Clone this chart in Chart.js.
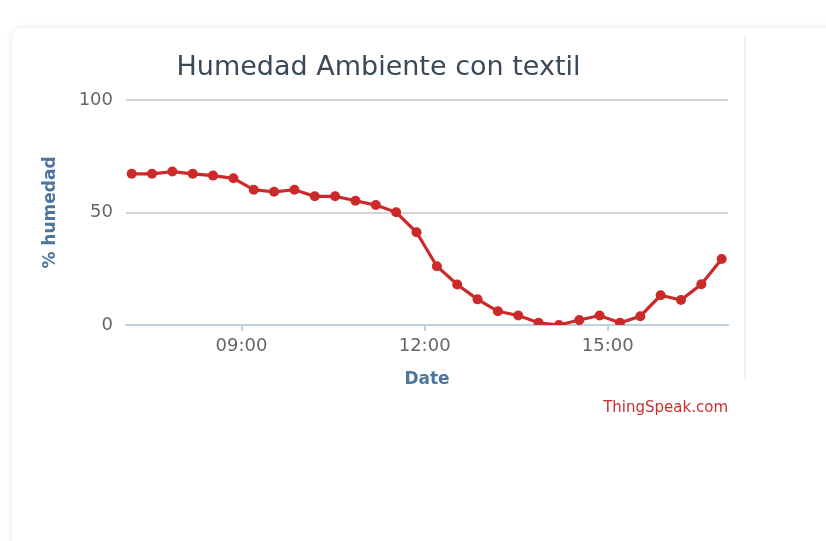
<!DOCTYPE html>
<html>
<head>
<meta charset="utf-8">
<script src="https://cdn.jsdelivr.net/npm/chart.js@4/dist/chart.umd.min.js"></script>
<style>
  html, body { margin: 0; padding: 0; background: #ffffff; width: 826px; height: 541px; overflow: hidden; }
  #card { position: absolute; left: 12px; top: 28px; width: 900px; height: 600px; background: #ffffff;
          border-radius: 10px; box-shadow: 0 0 7px rgba(0,0,0,0.10); }
  #edge { position: absolute; left: 744px; top: 35px; width: 2px; height: 345px; background: #fbefed; }
  #wrap { position: absolute; left: 12px; top: 28px; width: 733px; height: 400px; }
</style>
</head>
<body>
<div id="card"></div>
<div id="edge"></div>
<div id="wrap"><canvas id="c" width="733" height="400"></canvas></div>
<script>
// ---- data ----
const times = ["07:12","07:32","07:52","08:12","08:32","08:52","09:12","09:32","09:52","10:12",
               "10:32","10:52","11:12","11:32","11:52","12:12","12:32","12:52","13:12","13:32",
               "13:52","14:12","14:32","14:52","15:12","15:32","15:52","16:12","16:32","16:52"];
const humidity = [67.2, 67.2, 68.2, 67.2, 66.4, 65.2, 60.1, 59.2, 60.1, 57.2,
                  57.2, 55.2, 53.3, 50.1, 41.2, 26.1, 18.0, 11.4, 6.1, 4.2,
                  1.0, 0.0, 2.2, 4.2, 1.0, 3.9, 13.2, 11.1, 18.1, 29.3];
const xTickLabels = ["09:00", "12:00", "15:00"];
const yTickValues = [0, 50, 100];
const titleText = "Humedad Ambiente con textil";
const yTitle = "% humedad";
const xTitle = "Date";
const creditText = "ThingSpeak.com";

function toHours(s) { const p = s.split(":"); return Number(p[0]) + Number(p[1]) / 60; }
function fmt(v) {
  const h = Math.floor(v + 1e-9), m = Math.round((v - h) * 60);
  return String(h).padStart(2, "0") + ":" + String(m).padStart(2, "0");
}

const points = times.map((t, i) => ({ x: toHours(t), y: humidity[i] }));

const creditPlugin = {
  id: "credit",
  afterDraw(chart) {
    const ctx = chart.ctx;
    ctx.save();
    ctx.font = "15px 'DejaVu Sans'";
    ctx.fillStyle = "#cc2e2e";
    ctx.textAlign = "right";
    ctx.textBaseline = "middle";
    ctx.fillText(creditText, chart.chartArea.right, 380);
    ctx.restore();
  }
};

new Chart(document.getElementById("c"), {
  type: "line",
  data: {
    datasets: [{
      label: "Humedad",
      data: points,
      borderColor: "#cc2a2a",
      backgroundColor: "#cc2a2a",
      borderWidth: 3.2,
      pointRadius: 5,
      pointBorderWidth: 0,
      pointBackgroundColor: "#cc2a2a",
      tension: 0,
      yAxisID: "y",
      xAxisID: "x"
    }]
  },
  options: {
    responsive: false,
    animation: false,
    layout: { padding: 0 },
    plugins: {
      legend: { display: false },
      tooltip: { enabled: false },
      title: {
        display: true,
        text: titleText,
        color: "#3a4858",
        font: { family: "'DejaVu Sans'", size: 27, weight: "normal" },
        padding: { top: 24, bottom: 15.6 }
      }
    },
    scales: {
      x: {
        type: "linear",
        min: 7.107,
        max: 16.97,
        afterBuildTicks(scale) { scale.ticks = xTickLabels.map(t => ({ value: toHours(t) })); },
        afterFit(scale) { scale.height = 103; },
        ticks: {
          callback: v => fmt(v),
          color: "#666666",
          font: { family: "'DejaVu Sans'", size: 18 },
          padding: 5,
          maxRotation: 0,
          autoSkip: false
        },
        grid: { display: true, drawOnChartArea: false, drawTicks: true, tickLength: 6, color: "#c0d0e0", lineWidth: 2 },
        border: { display: true, color: "#c0d0e0", width: 2 },
        title: {
          display: true, text: xTitle, color: "#4d759e",
          font: { family: "'DejaVu Sans'", size: 17, weight: "bold" },
          padding: { top: 0, bottom: 38 }
        }
      },
      y: {
        type: "linear",
        position: "left",
        min: 0,
        max: 100,
        afterBuildTicks(scale) { scale.ticks = yTickValues.map(v => ({ value: v })); },
        afterFit(scale) { scale.width = 114; },
        ticks: {
          color: "#666666",
          font: { family: "'DejaVu Sans'", size: 18 },
          padding: 13
        },
        grid: {
          drawTicks: false,
          color: ctx => (ctx.tick && ctx.tick.value === 0) ? "rgba(0,0,0,0)" : "#d4d4d4",
          lineWidth: 2
        },
        border: { display: false },
        title: {
          display: true, text: yTitle, color: "#4d759e",
          font: { family: "'DejaVu Sans'", size: 17, weight: "bold" },
          padding: { top: 28, bottom: 0 }
        }
      },
      yR: {
        type: "linear",
        position: "right",
        display: true,
        afterFit(scale) { scale.width = 17; },
        ticks: { display: false },
        grid: { display: false, drawTicks: false },
        border: { display: false }
      }
    }
  },
  plugins: [creditPlugin]
});
</script>
</body>
</html>
